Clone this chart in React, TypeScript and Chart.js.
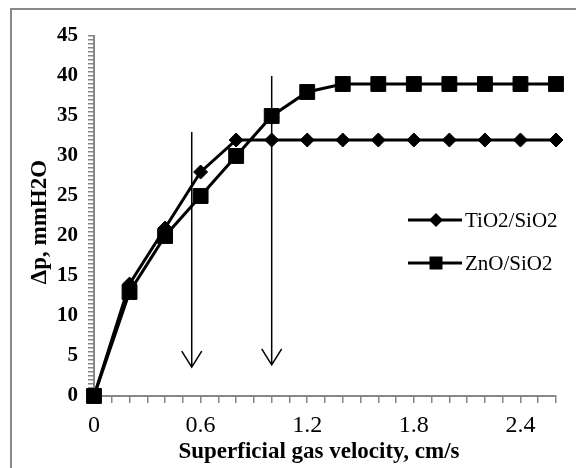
import React, { useEffect, useRef } from 'react';
import { Chart, registerables } from 'chart.js';

Chart.register(...registerables);

// Superficial gas velocity (cm/s)
const velocity = [0, 0.2, 0.4, 0.6, 0.8, 1.0, 1.2, 1.4, 1.6, 1.8, 2.0, 2.2, 2.4, 2.6];
// Pressure drop (mmH2O)
const tio2Drop = [0, 14, 21, 28, 32, 32, 32, 32, 32, 32, 32, 32, 32, 32];
const znoDrop = [0, 13, 20, 25, 30, 35, 38, 39, 39, 39, 39, 39, 39, 39];
const seriesNames = ['TiO2/SiO2', 'ZnO/SiO2'];

// Minimum fluidization markers (vertical arrows)
const arrowX = [0.55, 1.0];
const arrowTop = [33, 40];
const arrowTip = [3.6, 3.9];

const xTitle = 'Superficial gas velocity, cm/s';
const yTitle = 'Δp, mmH2O';

const SERIF = "'Liberation Serif', 'Times New Roman', serif";
const AXIS_GRAY = '#878787';

const near = (v: number, step: number) => Math.abs(v / step - Math.round(v / step)) < 1e-6;

const decorPlugin = {
  id: 'decor',
  beforeDraw(chart: any) {
    const { ctx, width, height } = chart;
    ctx.save();
    ctx.fillStyle = '#ffffff';
    ctx.fillRect(0, 0, width, height);
    ctx.strokeStyle = '#8a8a8a';
    ctx.lineWidth = 2;
    ctx.strokeRect(11, 9, width + 20, height + 20);
    ctx.restore();
  },
  afterDraw(chart: any) {
    const { ctx, chartArea, scales } = chart;
    const xs = scales.x;
    const ys = scales.y;
    ctx.save();

    // arrows
    ctx.strokeStyle = '#000';
    ctx.lineWidth = 1.5;
    arrowX.forEach((ax, i) => {
      const px = xs.getPixelForValue(ax);
      const top = ys.getPixelForValue(arrowTop[i]);
      const tip = ys.getPixelForValue(arrowTip[i]);
      ctx.beginPath();
      ctx.moveTo(px, top);
      ctx.lineTo(px, tip);
      ctx.moveTo(px - 10, tip - 16);
      ctx.lineTo(px, tip);
      ctx.lineTo(px + 10, tip - 16);
      ctx.stroke();
    });

    // axis titles
    ctx.fillStyle = '#000';
    ctx.font = `bold 23px ${SERIF}`;
    ctx.textAlign = 'center';
    ctx.textBaseline = 'middle';
    ctx.fillText(xTitle, (chartArea.left + chartArea.right) / 2 - 6, 452);
    ctx.save();
    ctx.translate(40, (chartArea.top + chartArea.bottom) / 2 + 6);
    ctx.rotate(-Math.PI / 2);
    ctx.fillText(yTitle, 0, 0);
    ctx.restore();

    // legend
    const rows = [220, 263];
    ctx.font = `21px ${SERIF}`;
    ctx.textAlign = 'left';
    rows.forEach((ry, i) => {
      ctx.strokeStyle = '#000';
      ctx.lineWidth = 3;
      ctx.beginPath();
      ctx.moveTo(408, ry);
      ctx.lineTo(462, ry);
      ctx.stroke();
      ctx.fillStyle = '#000';
      ctx.beginPath();
      if (i === 0) {
        ctx.moveTo(436 - 7, ry);
        ctx.lineTo(436, ry - 7);
        ctx.lineTo(436 + 7, ry);
        ctx.lineTo(436, ry + 7);
        ctx.closePath();
      } else {
        ctx.rect(436 - 6.5, ry - 6.5, 13, 13);
      }
      ctx.fill();
      ctx.fillText(seriesNames[i], 465, ry + 1);
    });
    ctx.restore();
  },
};

export default function App() {
  const canvasRef = useRef<HTMLCanvasElement | null>(null);

  useEffect(() => {
    const canvas = canvasRef.current;
    if (!canvas) return;
    const chart = new Chart(canvas, {
      type: 'line',
      data: {
        datasets: [
          {
            label: seriesNames[0],
            data: velocity.map((v, i) => ({ x: v, y: tio2Drop[i] })),
            borderColor: '#000',
            backgroundColor: '#000',
            borderWidth: 3,
            pointStyle: 'rectRot',
            pointRadius: 7,
            pointBorderWidth: 1,
            pointBackgroundColor: '#000',
            pointBorderColor: '#000',
            clip: false as any,
          },
          {
            label: seriesNames[1],
            data: velocity.map((v, i) => ({ x: v, y: znoDrop[i] })),
            borderColor: '#000',
            backgroundColor: '#000',
            borderWidth: 3,
            pointStyle: 'rect',
            pointRadius: 10.5,
            pointBorderWidth: 1,
            pointBackgroundColor: '#000',
            pointBorderColor: '#000',
            clip: false as any,
          },
        ],
      },
      options: {
        responsive: false,
        animation: false,
        events: [],
        layout: { padding: { top: 36, right: 20, bottom: 0, left: 0 } },
        plugins: { legend: { display: false }, tooltip: { enabled: false } },
        scales: {
          x: {
            type: 'linear',
            min: 0,
            max: 2.6,
            afterFit(scale: any) {
              scale.height = 72;
            },
            afterBuildTicks(scale: any) {
              const t = [];
              for (let i = 0; i <= 26; i++) t.push({ value: i / 10 });
              scale.ticks = t;
            },
            ticks: {
              autoSkip: false,
              maxRotation: 0,
              padding: 8,
              color: '#000',
              font: { family: SERIF, size: 24 },
              callback: (v: any) => (near(Number(v), 0.6) ? String(Math.round(Number(v) * 10) / 10) : ''),
            },
            grid: { drawOnChartArea: false, drawTicks: true, tickLength: 7, color: AXIS_GRAY, lineWidth: 1.5 },
            border: { display: true, color: AXIS_GRAY, width: 2 },
          },
          y: {
            type: 'linear',
            min: 0,
            max: 45,
            afterFit(scale: any) {
              scale.width = 94;
            },
            afterBuildTicks(scale: any) {
              const t = [];
              for (let i = 0; i <= 90; i++) t.push({ value: i / 2 });
              scale.ticks = t;
            },
            ticks: {
              autoSkip: false,
              padding: 10,
              color: '#000',
              font: { family: SERIF, size: 21, weight: 'bold' },
              callback: (v: any) => (near(Number(v), 5) ? String(Math.round(Number(v))) : ''),
            },
            grid: { drawOnChartArea: false, drawTicks: true, tickLength: 6, color: AXIS_GRAY, lineWidth: 1.5 },
            border: { display: true, color: AXIS_GRAY, width: 2 },
          },
        },
      },
      plugins: [decorPlugin],
    });
    return () => chart.destroy();
  }, []);

  return (
    <div style={{ position: 'absolute', left: 0, top: 0, width: 576, height: 468 }}>
      <canvas ref={canvasRef} width={576} height={468} style={{ width: 576, height: 468 }} />
    </div>
  );
}
